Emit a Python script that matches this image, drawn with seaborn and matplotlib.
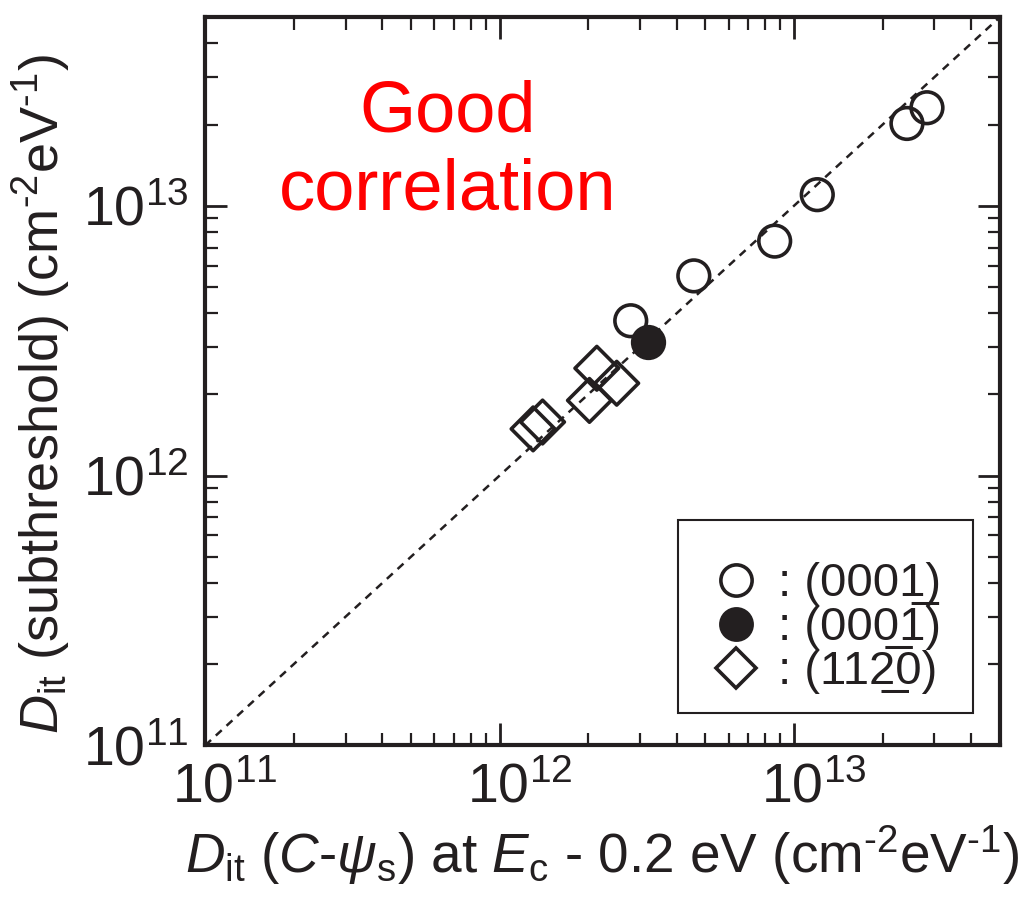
import numpy as np
import pandas as pd
import matplotlib
matplotlib.use("Agg")
import matplotlib.pyplot as plt
import seaborn as sns
from matplotlib.lines import Line2D
from matplotlib.patches import Rectangle
from matplotlib.transforms import ScaledTranslation
from matplotlib.ticker import LogLocator, LogFormatterMathtext, NullFormatter

sns.set_theme(style="ticks")
plt.rcParams['font.family'] = ['Liberation Sans', 'DejaVu Sans']
plt.rcParams['mathtext.fontset'] = 'custom'
plt.rcParams['mathtext.rm'] = 'Liberation Sans'
plt.rcParams['mathtext.it'] = 'Liberation Sans:italic'
plt.rcParams['mathtext.bf'] = 'Liberation Sans:bold'
plt.rcParams['axes.unicode_minus'] = False

INK = "#231f20"

# ---- data ----
x_0001 = [2.79e12, 4.57e12, 8.6e12, 1.2e13, 2.42e13, 2.83e13]
y_0001 = [3.75e12, 5.5e12, 7.4e12, 1.1e13, 2.02e13, 2.31e13]
x_000m1 = [3.20e12]
y_000m1 = [3.12e12]
x_1120 = [1.30e12, 1.40e12, 2.02e12, 2.14e12, 2.50e12]
y_1120 = [1.49e12, 1.58e12, 1.90e12, 2.50e12, 2.20e12]
diag = [1e11, 5e13]
labels = [": (000" + "1\u0332" + ")", ": (00" + "0\u0332" + "1)", ": (11" + "2\u0332" + "0)"]

fig = plt.figure(figsize=(10.36, 9.09), dpi=100)
ax = fig.add_axes([0.198, 0.180, 0.767, 0.801])

sns.lineplot(x=diag, y=diag, ax=ax, color=INK, lw=1.8, linestyle=(0, (3.2, 2.6)), zorder=1)

ms = 520
lw = 2.6
sns.scatterplot(x=x_0001, y=y_0001, ax=ax, marker='o', s=ms, facecolors='none',
                edgecolor=INK, linewidth=lw, zorder=3)
sns.scatterplot(x=x_000m1, y=y_000m1, ax=ax, marker='o', s=ms, color=INK,
                edgecolor=INK, linewidth=lw, zorder=3)
sns.scatterplot(x=x_1120, y=y_1120, ax=ax, marker='D', s=ms * 0.95, facecolors='none',
                edgecolor=INK, linewidth=lw, zorder=3)

ax.set_xscale('log')
ax.set_yscale('log')
ax.set_xlim(1e11, 5e13)
ax.set_ylim(1e11, 5e13)

for axis in (ax.xaxis, ax.yaxis):
    axis.set_major_locator(LogLocator(base=10, numticks=10))
    axis.set_minor_locator(LogLocator(base=10, subs=np.arange(2, 10), numticks=10))
    axis.set_major_formatter(LogFormatterMathtext())
    axis.set_minor_formatter(NullFormatter())

ax.tick_params(which='both', direction='in', top=True, right=True, color=INK)
ax.tick_params(which='major', length=16, width=2.0, labelsize=40, pad=12, labelcolor=INK)
ax.tick_params(which='minor', length=9, width=1.6)
for sp in ax.spines.values():
    sp.set_linewidth(3.0)
    sp.set_color(INK)

ax.set_xlabel(r"$D_{\rm it}$ ($C$-$\psi_{\rm s}$) at $E_{\rm c}$ - 0.2 eV (cm$^{\text{-}2}$eV$^{\text{-}1}$)",
              fontsize=39.5, color=INK, labelpad=7)
ax.set_ylabel(r"$D_{\rm it}$ (subthreshold) (cm$^{\text{-}2}$eV$^{\text{-}1}$)",
              fontsize=39, color=INK, labelpad=8)
ax.yaxis.label.set_y(0.483)

ax.text(0.305, 0.815, "Good\ncorrelation", transform=ax.transAxes, ha='center', va='center',
        fontsize=52, color='#ff0000', linespacing=1.2)

# legend box
ax.add_patch(Rectangle((0.595, 0.045), 0.371, 0.264, transform=ax.transAxes,
                       facecolor='white', edgecolor=INK, linewidth=1.5, zorder=4))

handles = [
    Line2D([], [], ls='none', marker='o', ms=22.5, mfc='none', mec=INK, mew=lw),
    Line2D([], [], ls='none', marker='o', ms=22.5, mfc=INK, mec=INK, mew=lw),
    Line2D([], [], ls='none', marker='D', ms=20, mfc='none', mec=INK, mew=lw),
]
leg = ax.legend(handles, labels, loc='center', bbox_to_anchor=(0.782, 0.161),
                fontsize=34, frameon=False, borderpad=0.0,
                handletextpad=0.4, labelspacing=0.0, handlelength=1.0,
                borderaxespad=0)
leg.set_zorder(5)
for t in leg.get_texts():
    t.set_color(INK)

fig.canvas.draw()
shift = ScaledTranslation(20 / 100, 0, fig.dpi_scale_trans)
for tick in ax.xaxis.get_major_ticks():
    tick.label1.set_transform(tick.label1.get_transform() + shift)

fig.savefig("out.png", dpi=100)
